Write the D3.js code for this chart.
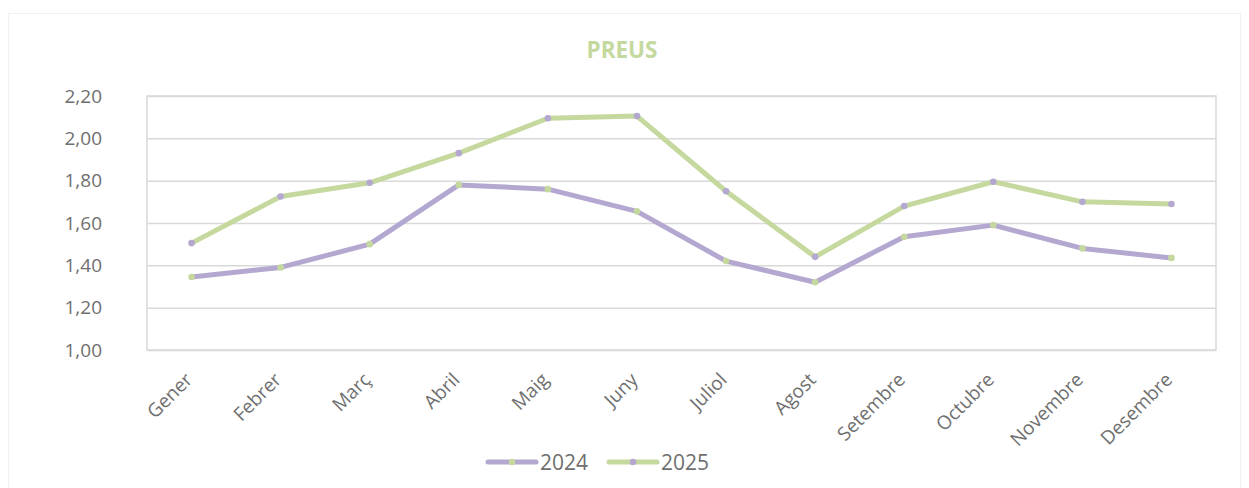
<!DOCTYPE html>
<html><head><meta charset="utf-8">
<script src="https://cdn.jsdelivr.net/npm/d3@7"></script>
<style>body{margin:0;background:#fff;}svg{display:block;font-family:"Open Sans",sans-serif;}</style>
</head><body>
<svg id="c" width="1249" height="488"></svg>
<script>
const categories = ["Gener","Febrer","Març","Abril","Maig","Juny","Juliol","Agost","Setembre","Octubre","Novembre","Desembre"];
const values2024 = [1.345,1.39,1.50,1.78,1.76,1.655,1.42,1.32,1.535,1.59,1.48,1.435];
const values2025 = [1.505,1.725,1.79,1.93,2.095,2.105,1.75,1.44,1.68,1.795,1.70,1.69];
const yTicks = [1.0,1.2,1.4,1.6,1.8,2.0,2.2];
const seriesNames = ["2024","2025"];

const purple = "#b4a7d0", green = "#c5d99f";
const series = [
  {name: seriesNames[0], values: values2024, line: purple, dot: green},
  {name: seriesNames[1], values: values2025, line: green, dot: purple}
];

const svg = d3.select("#c");
svg.append("rect").attr("x",8.5).attr("y",13.5).attr("width",1232).attr("height",480)
  .attr("fill","#fff").attr("stroke","#f0f0f0");

const L=147, R=1216, T=96, B=350;
const x = d3.scaleBand().domain(categories).range([L,R]);
const y = d3.scaleLinear().domain([1.0,2.2]).range([B,T]);

svg.append("text").attr("x",622).attr("y",58).attr("text-anchor","middle")
  .attr("font-size",22.5).attr("font-weight","bold").attr("fill",green).text("PREUS");

// gridlines
const yAxis = d3.axisLeft(y).tickValues(yTicks).tickSize(-(R-L))
  .tickFormat(d=>d3.format(".2f")(d).replace(".",","));
const gy = svg.append("g").attr("transform",`translate(${L},0)`).call(yAxis);
gy.select(".domain").remove();
gy.selectAll(".tick line").attr("stroke","#d9d9d9").attr("stroke-width",1.5);
gy.selectAll(".tick text").attr("x",-45).attr("font-size",19).attr("fill","#6f6f6f")
  .attr("font-family","Open Sans, sans-serif");

svg.append("rect").attr("x",L).attr("y",T).attr("width",R-L).attr("height",B-T)
  .attr("fill","none").attr("stroke","#d9d9d9").attr("stroke-width",1.5);

const xAxis = d3.axisBottom(x).tickSize(0);
const gx = svg.append("g").attr("transform",`translate(0,${B})`).call(xAxis);
gx.select(".domain").remove();
gx.selectAll(".tick text").attr("font-size",19).attr("fill","#6f6f6f")
  .attr("font-family","Open Sans, sans-serif")
  .attr("text-anchor","end").attr("dy",0).attr("y",0)
  .attr("transform","translate(2,31) rotate(-45)");

const line = d3.line().x((d,i)=>x(categories[i])+x.bandwidth()/2).y(d=>y(d));
series.forEach(s=>{
  svg.append("path").datum(s.values).attr("d",line).attr("fill","none")
    .attr("stroke",s.line).attr("stroke-width",5).attr("stroke-linejoin","round").attr("stroke-linecap","round");
  svg.append("g").selectAll("circle").data(s.values).join("circle")
    .attr("cx",(d,i)=>x(categories[i])+x.bandwidth()/2).attr("cy",d=>y(d))
    .attr("r",3.3).attr("fill",s.dot);
});

// legend
const legX = [486, 607];
series.forEach((s,i)=>{
  const g = svg.append("g").attr("transform",`translate(${legX[i]},462)`);
  g.append("line").attr("x1",2).attr("x2",50).attr("stroke",s.line).attr("stroke-width",5).attr("stroke-linecap","round");
  g.append("circle").attr("cx",26).attr("r",3.3).attr("fill",s.dot);
  g.append("text").attr("x",54).attr("y",7.5).attr("font-size",21).attr("fill","#6f6f6f").text(s.name);
});
</script>
</body></html>
